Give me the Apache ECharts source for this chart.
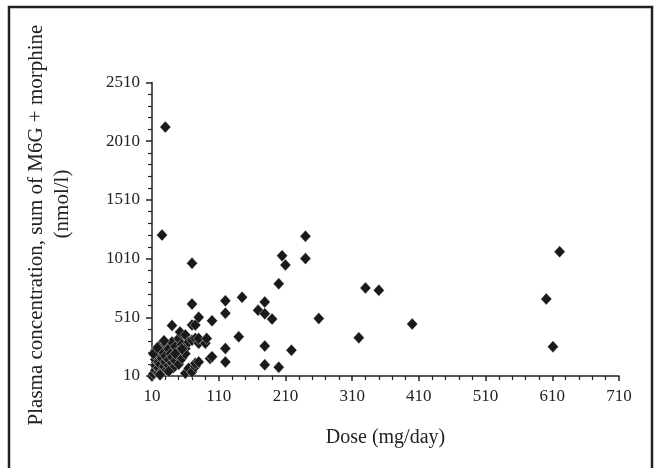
<!DOCTYPE html>
<html>
<head>
<meta charset="utf-8">
<script src="https://cdn.jsdelivr.net/npm/echarts@6/dist/echarts.min.js"></script>
<style>html,body{margin:0;padding:0;background:#fff}#c{width:659px;height:468px}</style>
</head>
<body>
<div id="c"></div>
<script>
// Dose (mg/day)
const doseValues = [10,12,15,15,15,15,18,20,20,20,20,20,22,25,25,25,28,30,30,30,32,35,35,35,38,40,40,40,40,42,45,45,48,50,50,50,52,55,55,60,60,60,60,65,65,70,70,70,70,70,75,75,75,75,80,80,80,80,90,92,97,100,100,120,120,120,120,140,145,169,179,179,190,179,179,200,200,205,210,219,240,240,260,320,330,350,400,601,621,611,30,25,12,18,22,28,35,45,55];
// Plasma concentration, sum of M6G + morphine (nmol/l)
const concValues = [10,30,60,100,150,230,180,40,80,130,200,260,110,50,160,220,90,130,180,280,60,100,150,240,200,120,170,300,440,80,140,260,190,110,220,330,385,160,280,33,245,360,200,75,300,45,315,445,623,970,90,118,330,445,130,290,330,510,290,330,160,175,480,130,245,545,650,345,680,570,540,640,495,265,105,85,795,1035,955,230,1200,1010,500,335,760,740,452,666,1069,260,2130,1210,200,250,20,310,50,200,240];
const xTicks = {min:10, max:710, interval:100};
const yTicks = {min:10, max:2510, interval:500};

const points = doseValues.map((d,i)=>[d, concValues[i]]);
const chart = echarts.init(document.getElementById('c'), null, {renderer:'canvas'});
const font = '"Liberation Serif","Times New Roman",serif';
chart.setOption({
  animation:false,
  backgroundColor:'#fff',
  grid:{left:152, right:40, top:82.5, bottom:92},
  xAxis:{
    type:'value', min:xTicks.min, max:xTicks.max, interval:xTicks.interval,
    name:'Dose (mg/day)', nameLocation:'middle', nameGap:52,
    nameTextStyle:{fontFamily:font, fontSize:20, color:'#222'},
    axisLine:{onZero:false, lineStyle:{color:'#222', width:1.5}},
    axisTick:{inside:false, length:5, lineStyle:{color:'#222', width:1.5}},
    minorTick:{show:true, splitNumber:5, length:4, lineStyle:{color:'#222', width:1.2}},
    axisLabel:{fontFamily:font, fontSize:17, color:'#222', margin:12, formatter:v=>String(v)},
    splitLine:{show:false}
  },
  yAxis:{
    type:'value', min:yTicks.min, max:yTicks.max, interval:yTicks.interval,
    axisLine:{show:true, onZero:false, lineStyle:{color:'#222', width:1.5}},
    axisTick:{show:true, inside:false, length:6, lineStyle:{color:'#222', width:1.5}},
    minorTick:{show:true, splitNumber:5, length:4, lineStyle:{color:'#222', width:1.2}},
    axisLabel:{fontFamily:font, fontSize:17, color:'#222', margin:12, formatter:v=>String(v)},
    splitLine:{show:false}
  },
  graphic:[
    {type:'rect', shape:{x:9, y:7, width:643, height:470}, style:{fill:'none', stroke:'#222', lineWidth:2.5}, silent:true},
    {type:'text', x:36, y:225, rotation:Math.PI/2, style:{text:'Plasma concentration, sum of M6G + morphine', fontFamily:font, fontSize:21, fill:'#222', align:'center', verticalAlign:'middle'}},
    {type:'text', x:62, y:204, rotation:Math.PI/2, style:{text:'(nmol/l)', fontFamily:font, fontSize:21, fill:'#222', align:'center', verticalAlign:'middle'}}
  ],
  series:[{
    type:'scatter', data:points, symbol:'diamond', symbolSize:[11,12],
    itemStyle:{color:'#1a1a1a', borderColor:'#fff', borderWidth:0.4, opacity:1}
  }]
});
</script>
</body>
</html>
